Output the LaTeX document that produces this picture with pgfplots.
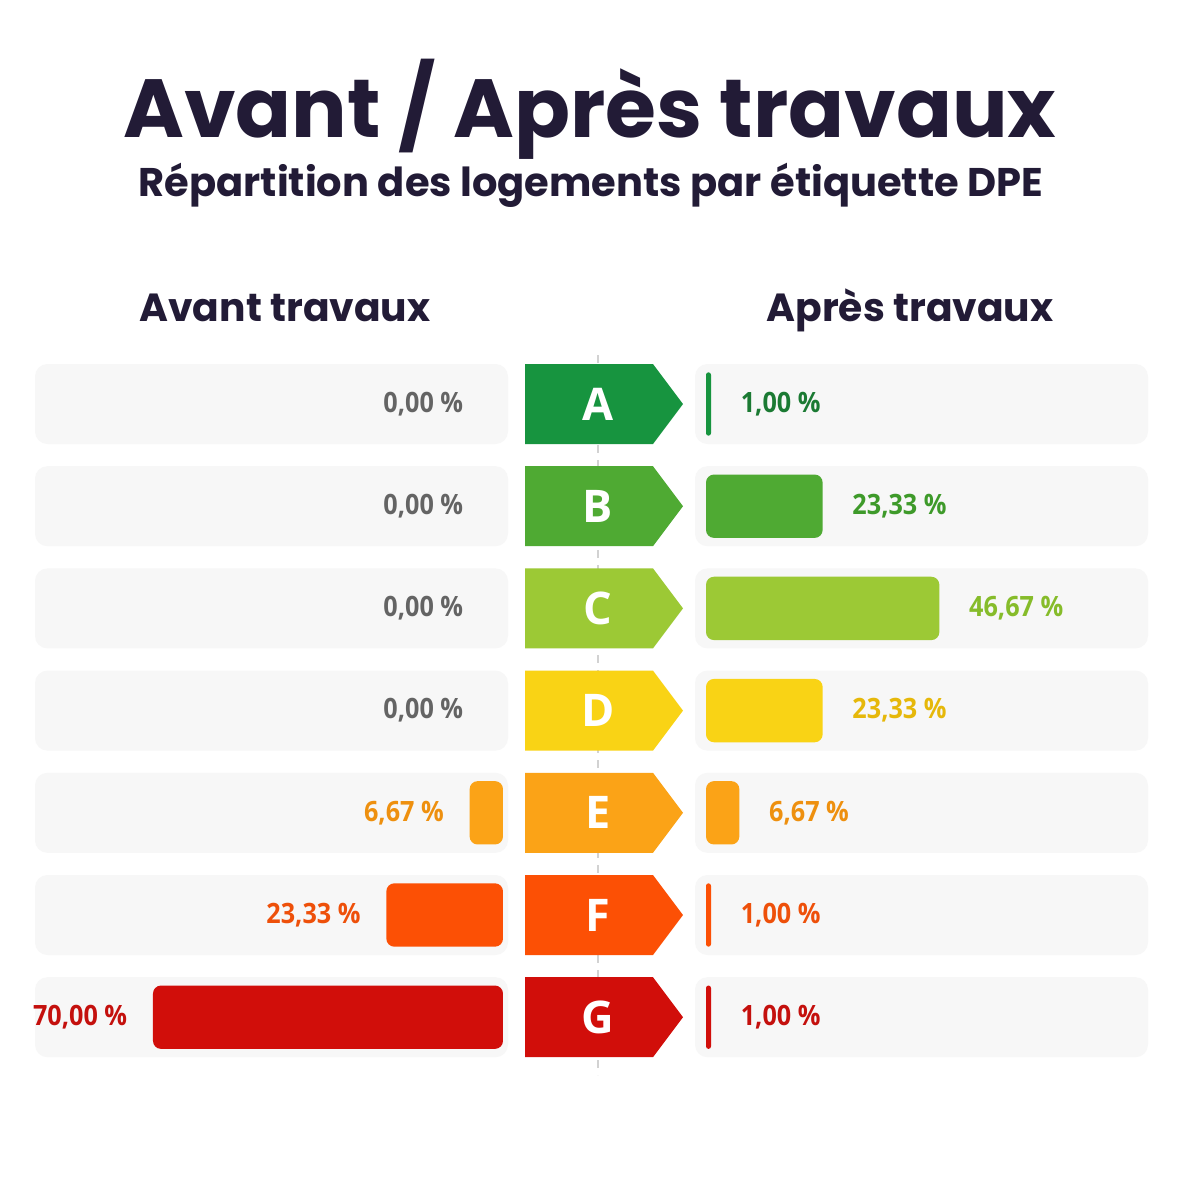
\documentclass[border=0pt]{standalone}
\usepackage{fontspec}
\setmainfont{Open Sans}
\newfontfamily\titlefont{Poppins}
\newfontfamily\valfont{Open Sans}[FakeStretch=0.9]
\usepackage{pgfplots}
\pgfplotsset{compat=1.18}

% ink and panel colours
\definecolor{ink}{HTML}{221B36}
\definecolor{rowbg}{HTML}{F7F7F7}
\definecolor{guide}{HTML}{D2D2D2}
\definecolor{zerotxt}{HTML}{646464}
% DPE classes: fills and label colours
\definecolor{dpeA}{HTML}{17943F}
\definecolor{dpeB}{HTML}{4FAA33}
\definecolor{dpeC}{HTML}{9CC935}
\definecolor{dpeD}{HTML}{F9D315}
\definecolor{dpeE}{HTML}{FBA317}
\definecolor{dpeF}{HTML}{FC5005}
\definecolor{dpeG}{HTML}{D10E0A}
\definecolor{txtA}{HTML}{1B7A33}
\definecolor{txtB}{HTML}{3E9A2A}
\definecolor{txtC}{HTML}{86BC2A}
\definecolor{txtD}{HTML}{E6B80A}
\definecolor{txtE}{HTML}{EE900F}
\definecolor{txtF}{HTML}{EE500A}
\definecolor{txtG}{HTML}{C4100D}

\pgfplotsset{
  dpe side/.style={
    scale only axis, width=140pt, height=286.16pt,
    xmin=0, xmax=70, ymin=-0.5, ymax=6.5, y dir=reverse,
    hide axis, clip=false,
    xbar, bar width=0.62, bar shift=0pt,
    point meta=x,
    nodes near coords={\pgfmathprintnumber[fixed,fixed zerofill,precision=2,use comma,assume math mode=true]{\pgfplotspointmeta}~\%},
    nodes near coords style={font=\valfont\bfseries\fontsize{11.2}{11.2}\selectfont},
  },
  val/.style={draw=none, fill=#1, rounded corners=3.2pt},
  thin/.style={draw=none, fill=#1, rounded corners=1pt},
  zero/.style={draw=none, fill=none, nodes near coords style={text=zerotxt, xshift=-5.6pt}},
}

% one row: grey panels on both sides and the class arrow (centre y, letter, colour)
\newcommand\dperow[3]{%
  \fill[rowbg, rounded corners=5pt] (axis cs:35,#1-40) rectangle (axis cs:508,#1+40);
  \fill[rowbg, rounded corners=5pt] (axis cs:695,#1-40) rectangle (axis cs:1148,#1+40);
  \fill[#3] (axis cs:525,#1-40) -- (axis cs:653,#1-40) -- (axis cs:683,#1)
    -- (axis cs:653,#1+40) -- (axis cs:525,#1+40) -- cycle;
  \node[text=white, font=\bfseries\fontsize{18}{18}\selectfont] at (axis cs:598,#1) {#2};
}

\begin{document}
\begin{tikzpicture}
% ---------- frame, titles, panels and class arrows ----------
\begin{axis}[
  at={(0pt,0pt)}, anchor=south west,
  scale only axis, width=472.4pt, height=472.4pt,
  xmin=0, xmax=1181, ymin=0, ymax=1181, y dir=reverse,
  hide axis, clip=false]
  \fill[white] (axis cs:0,0) rectangle (axis cs:1181,1181);
  \node[anchor=base, text=ink, font=\titlefont\bfseries\fontsize{33}{33}\selectfont]
    at (axis cs:590,137) {Avant / Après travaux};
  \node[anchor=base, text=ink, font=\titlefont\bfseries\fontsize{16}{16}\selectfont]
    at (axis cs:591,196) {Répartition des logements par étiquette DPE};
  \node[anchor=base, text=ink, font=\titlefont\bfseries\fontsize{15.7}{15.7}\selectfont]
    at (axis cs:285,321) {Avant travaux};
  \node[anchor=base, text=ink, font=\titlefont\bfseries\fontsize{15.7}{15.7}\selectfont]
    at (axis cs:910,321) {Après travaux};
  % centre guide
  \draw[guide, dashed, line width=0.6pt] (axis cs:598,355) -- (axis cs:598,1075);
  \dperow{404}{A}{dpeA}
  \dperow{506.2}{B}{dpeB}
  \dperow{608.4}{C}{dpeC}
  \dperow{710.6}{D}{dpeD}
  \dperow{812.8}{E}{dpeE}
  \dperow{915}{F}{dpeF}
  \dperow{1017.2}{G}{dpeG}
\end{axis}

% ---------- before works (bars grow to the left) ----------
\begin{axis}[dpe side, x dir=reverse,
  at={(61.2pt,45.08pt)}, anchor=south west,
  every node near coord/.append style={anchor=east, xshift=-6.8pt}]
  \addplot[zero] coordinates {(0.00,0)};
  \addplot[zero] coordinates {(0.00,1)};
  \addplot[zero] coordinates {(0.00,2)};
  \addplot[zero] coordinates {(0.00,3)};
  \addplot[val=dpeE, nodes near coords style={text=txtE}] coordinates {(6.67,4)};
  \addplot[val=dpeF, nodes near coords style={text=txtF}] coordinates {(23.33,5)};
  \addplot[val=dpeG, nodes near coords style={text=txtG}] coordinates {(70.00,6)};
\end{axis}

% ---------- after works (bars grow to the right) ----------
\begin{axis}[dpe side,
  at={(282.4pt,45.08pt)}, anchor=south west,
  every node near coord/.append style={anchor=west, xshift=8.4pt}]
  \addplot[thin=dpeA, nodes near coords style={text=txtA}] coordinates {(1.00,0)};
  \addplot[val=dpeB, nodes near coords style={text=txtB}] coordinates {(23.33,1)};
  \addplot[val=dpeC, nodes near coords style={text=txtC}] coordinates {(46.67,2)};
  \addplot[val=dpeD, nodes near coords style={text=txtD}] coordinates {(23.33,3)};
  \addplot[val=dpeE, nodes near coords style={text=txtE}] coordinates {(6.67,4)};
  \addplot[thin=dpeF, nodes near coords style={text=txtF}] coordinates {(1.00,5)};
  \addplot[thin=dpeG, nodes near coords style={text=txtG}] coordinates {(1.00,6)};
\end{axis}
\end{tikzpicture}
\end{document}
